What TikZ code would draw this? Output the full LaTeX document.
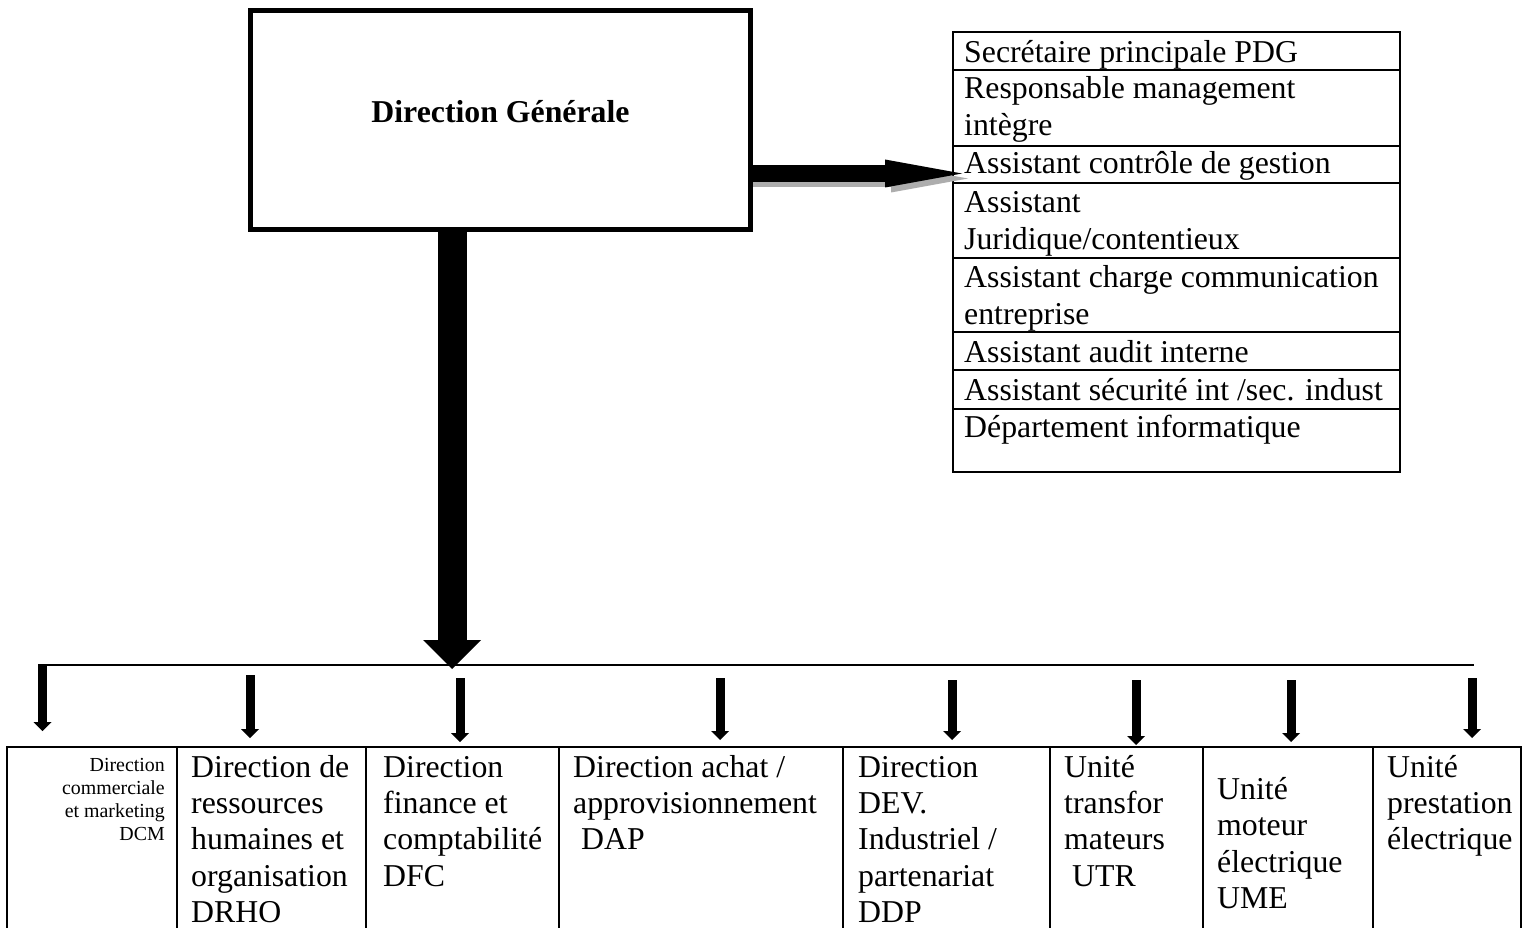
\documentclass[tikz,border=0pt]{standalone}
\usepackage{fontspec}
\setmainfont{Liberation Serif}
\usetikzlibrary{arrows.meta,calc}
\newcommand\txtbig{\fontsize{31.8}{37.3}\selectfont}
\newcommand\txttab{\fontsize{31.8}{36.3}\selectfont}
\newcommand\txtsmall{\fontsize{19.9}{23}\selectfont}
\newcommand\lead{\hspace*{0.25em}}
\begin{document}
\begin{tikzpicture}[x=1pt,y=-1pt,
  rowbox/.style={draw,line width=2.4pt,anchor=north west,minimum width=447pt,
    inner sep=0pt,outer sep=0pt},
  rowtext/.style={anchor=north west,inner sep=0pt,font=\txtbig,align=left},
  cellbox/.style={draw,line width=2.6pt,anchor=north west,minimum height=240pt,
    inner sep=0pt,outer sep=0pt},
  celltext/.style={anchor=north west,inner sep=0pt,font=\txttab,align=left},
  fatarrow/.style={line width=17pt,-{Triangle[length=77pt,width=28pt,line width=0pt]}},
  trunk/.style={line width=29pt,-{Triangle[length=29pt,width=58pt,line width=0pt]}},
  branch/.style={line width=9pt,-{Triangle[length=9pt,width=18pt,line width=0pt]}},
  bus/.style={line width=2pt}]
\path[use as bounding box] (0,0) rectangle (1526,928);
\clip (0,0) rectangle (1526,928);

% top management box
\node[draw,line width=5pt,minimum width=500pt,minimum height=219pt,
  inner sep=0pt,outer sep=0pt] (dg) at (500.5,120) {};

% staff list on the right
\node[rowbox,minimum height=38pt] (r1) at (953,32) {};
\node[rowbox,minimum height=76pt] (r2) at (953,70) {};
\node[rowbox,minimum height=37pt] (r3) at (953,146) {};
\node[rowbox,minimum height=75pt] (r4) at (953,183) {};
\node[rowbox,minimum height=74pt] (r5) at (953,258) {};
\node[rowbox,minimum height=38pt] (r6) at (953,332) {};
\node[rowbox,minimum height=39pt] (r7) at (953,370) {};
\node[rowbox,minimum height=63pt] (r8) at (953,409) {};

\node[rowtext] (l1) at ($(r1.north west)+(11,4)$) {\strut Secrétaire principale PDG};
\node[rowtext] (l2) at ($(r2.north west)+(11,2)$) {\strut Responsable management\\intègre};
\node[rowtext] (l3) at ($(r3.north west)+(11,1)$) {\strut Assistant contrôle de gestion};
\node[rowtext] (l4) at ($(r4.north west)+(11,3)$) {\strut Assistant\\Juridique/contentieux};
\node[rowtext] (l5) at ($(r5.north west)+(11,3)$) {\strut Assistant charge communication\\entreprise};
\node[rowtext] (l6) at ($(r6.north west)+(11,4)$) {\strut Assistant audit interne};
\node[rowtext] (l7) at ($(r7.north west)+(11,4)$) {\strut Assistant sécurité int /sec. indust};
\node[rowtext] (l8) at ($(r8.north west)+(11,2)$) {\strut Département informatique};

% arrow to the staff list, with its grey shadow
\coordinate (tipH) at (962,173.5);
\draw[fatarrow,draw=black!32] ($(dg.east |- tipH)+(2.5,5)$) -- ($(tipH)+(6,5)$);
\draw[fatarrow] (dg.east |- tipH) -- (tipH);

% distribution bus and trunk arrow
\coordinate (busL) at (46,665);
\coordinate (busR) at (1474,665);
\draw[bus] (busL) -- (busR);
\coordinate (tipV) at (452,669);
\draw[trunk] (dg.south -| tipV) -- (tipV);

\node[font=\bfseries\txtbig,anchor=base,inner sep=0pt] (dgt) at ($(dg.center)+(0,3)$) {Direction Générale};

% branch arrows
\coordinate (a1) at (42.5,664); \coordinate (b1) at (42.5,731);
\coordinate (a2) at (250,675);  \coordinate (b2) at (250,738);
\coordinate (a3) at (460,678);  \coordinate (b3) at (460,742);
\coordinate (a4) at (720,678);  \coordinate (b4) at (720,740);
\coordinate (a5) at (952,680);  \coordinate (b5) at (952,740);
\coordinate (a6) at (1136,680); \coordinate (b6) at (1136,745);
\coordinate (a7) at (1291,680); \coordinate (b7) at (1291,742);
\coordinate (a8) at (1472,678); \coordinate (b8) at (1472,738);
\foreach \i in {1,...,8} \draw[branch] (a\i) -- (b\i);

% departments
\node[cellbox,minimum width=170pt] (c1) at (7,747) {};
\node[cellbox,minimum width=189pt] (c2) at (177,747) {};
\node[cellbox,minimum width=193pt] (c3) at (366,747) {};
\node[cellbox,minimum width=284pt] (c4) at (559,747) {};
\node[cellbox,minimum width=207pt] (c5) at (843,747) {};
\node[cellbox,minimum width=153pt] (c6) at (1050,747) {};
\node[cellbox,minimum width=170pt] (c7) at (1203,747) {};
\node[cellbox,minimum width=148pt] (c8) at (1373,747) {};

\node[anchor=north east,inner sep=0pt,font=\txtsmall,align=right] (d1)
  at ($(c1.north east)+(-12,8.4)$) {\strut Direction\\commerciale\\et marketing\\DCM};
\node[celltext] (d2) at ($(c2.north west)+(14,4.5)$) {\strut Direction de\\ressources\\humaines et\\organisation\\DRHO};
\node[celltext] (d3) at ($(c3.north west)+(17,4.5)$) {\strut Direction\\finance et\\comptabilité\\DFC};
\node[celltext] (d4) at ($(c4.north west)+(14,4.5)$) {\strut Direction achat /\\approvisionnement\\\lead DAP};
\node[celltext] (d5) at ($(c5.north west)+(15,4.5)$) {\strut Direction\\DEV.\\Industriel /\\partenariat\\DDP};
\node[celltext] (d6) at ($(c6.north west)+(14,4.5)$) {\strut Unité\\transfor\\mateurs\\\lead UTR};
\node[celltext] (d7) at ($(c7.north west)+(14,27)$) {\strut Unité\\moteur\\électrique\\UME};
\node[celltext] (d8) at ($(c8.north west)+(14,4.5)$) {\strut Unité\\prestation\\électrique};
\end{tikzpicture}
\end{document}
